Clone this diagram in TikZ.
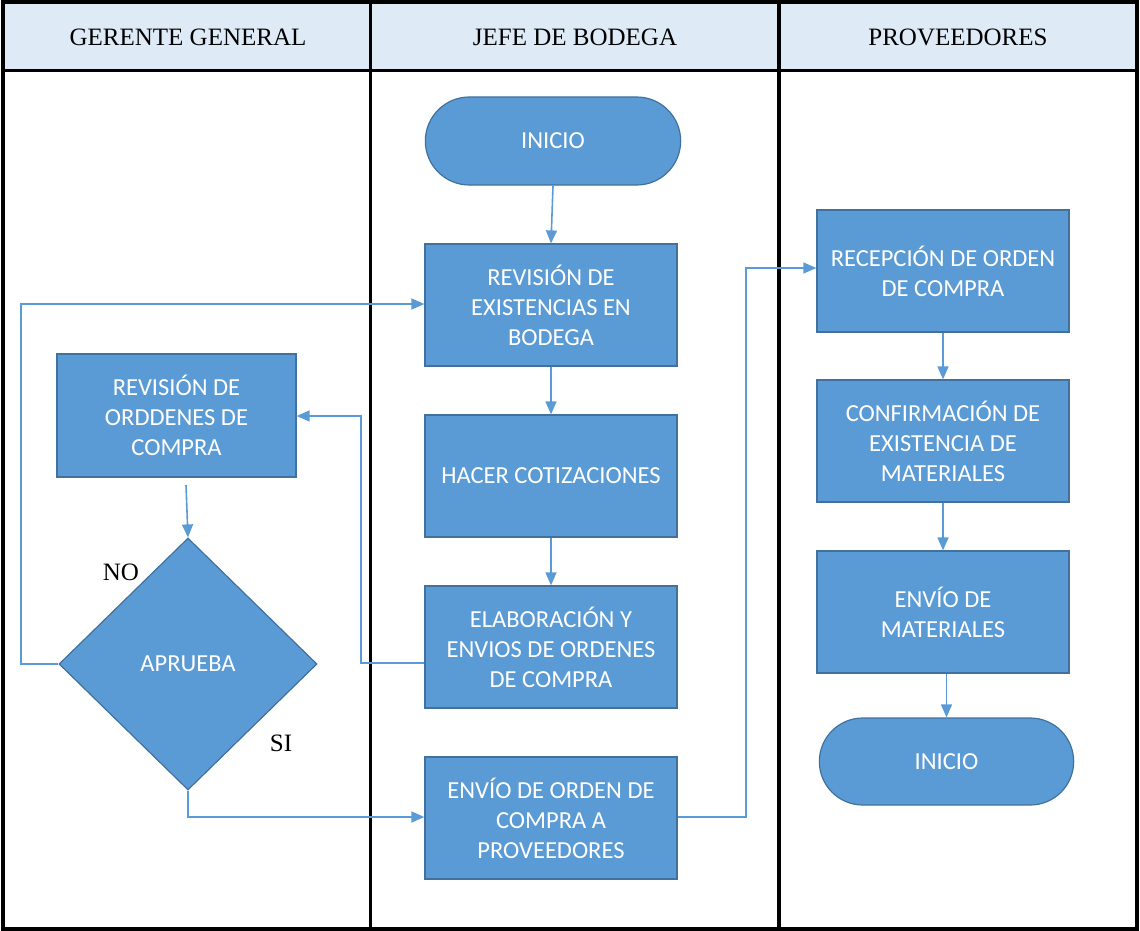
\documentclass[tikz,border=0pt]{standalone}
\usepackage{fontspec}
\setmainfont{Liberation Serif}
\newfontfamily\boxfont{Carlito}
\usetikzlibrary{arrows.meta,shapes.geometric,shapes.misc,positioning}

\definecolor{flowfill}{HTML}{5B9BD5}
\definecolor{flowedge}{HTML}{41719C}
\definecolor{headfill}{HTML}{DEEBF7}

\tikzset{
  procbox/.style={draw=flowedge, line width=1.2pt, fill=flowfill, text=white,
    minimum width=252pt, minimum height=122pt, align=center,
    font=\boxfont\fontsize{24.5}{30}\selectfont, inner sep=0pt},
  termbox/.style={draw=flowedge, line width=1.2pt, fill=flowfill, text=white,
    rounded rectangle, minimum width=262pt, minimum height=88pt,
    font=\boxfont\fontsize{24.5}{30}\selectfont},
  decbox/.style={draw=flowedge, line width=1.2pt, fill=flowfill, text=white,
    diamond, minimum width=258pt, minimum height=252pt, inner sep=0pt,
    font=\boxfont\fontsize{24.5}{30}\selectfont},
  flow/.style={draw=flowfill, line width=1.6pt,
    -{Triangle[length=13pt,width=11pt]}},
  laneline/.style={line width=3.5pt, black},
  lanehead/.style={font=\fontsize{25}{28}\selectfont},
  branchlbl/.style={font=\fontsize{25}{28}\selectfont}
}

\begin{document}
\begin{tikzpicture}[x=1pt, y=-1pt]
\useasboundingbox (0,0) rectangle (1140,931);

% header band and swim-lane frame
\fill[headfill] (3,2) rectangle (1137,70);
\draw[laneline] (3,2) rectangle (1137,929);
\draw[laneline] (3,70.5) -- (1137,70.5);
\draw[laneline] (370.5,2) -- (370.5,929);
\draw[laneline] (779,2) -- (779,929);

\node[lanehead] (hgg) at (188,37) {GERENTE GENERAL};
\node[lanehead] (hjb) at (575,37) {JEFE DE BODEGA};
\node[lanehead] (hpr) at (958,37) {PROVEEDORES};

% jefe de bodega
\node[termbox] (ini) at (553,141) {INICIO};
\node[procbox] (rev) at (551,305) {REVISIÓN DE\\EXISTENCIAS EN\\BODEGA};
\node[procbox] (cot) at (551,476) {HACER COTIZACIONES};
\node[procbox] (ela) at (551,647) {ELABORACIÓN Y\\ENVIOS DE ORDENES\\DE COMPRA};
\node[procbox] (env) at (551,818) {ENVÍO DE ORDEN DE\\COMPRA A\\PROVEEDORES};

% gerente general
\node[procbox, minimum width=239pt, minimum height=123pt] (rod) at (176.5,415.5)
  {REVISIÓN DE\\ORDDENES DE\\COMPRA};
\node[decbox] (apr) at (188,664) {APRUEBA};
\node[branchlbl] (lno) at (121,572) {NO};
\node[branchlbl] (lsi) at (281,743) {SI};

% proveedores
\node[procbox] (rec) at (943,271) {RECEPCIÓN DE ORDEN\\DE COMPRA};
\node[procbox] (con) at (943,441) {CONFIRMACIÓN DE\\EXISTENCIA DE\\MATERIALES};
\node[procbox] (mat) at (943,612) {ENVÍO DE\\MATERIALES};
\node[termbox, minimum width=261pt, minimum height=87pt] (fin) at (946.5,761.5) {INICIO};

% connectors
\draw[flow] (ini.south) -- (rev.north);
\draw[flow] (rev.south) -- (cot.north);
\draw[flow] (cot.south) -- (ela.north);
\draw[flow] (ela.west |- 0,663) -| (361,416) -- (rod.east |- 0,416);
\draw[flow] (186,485) -- (apr.north);
\draw[flow] (apr.west) -| (21,304) -- (rev.west |- 0,304);
\draw[flow] (apr.south) |- (env.west |- 0,817);
\draw[flow] (env.east |- 0,817) -| (746,268) -- (rec.west |- 0,268);
\draw[flow] (rec.south) -- (con.north);
\draw[flow] (con.south) -- (mat.north);
\draw[flow] (mat.south -| fin.north) -- (fin.north);
\end{tikzpicture}
\end{document}
